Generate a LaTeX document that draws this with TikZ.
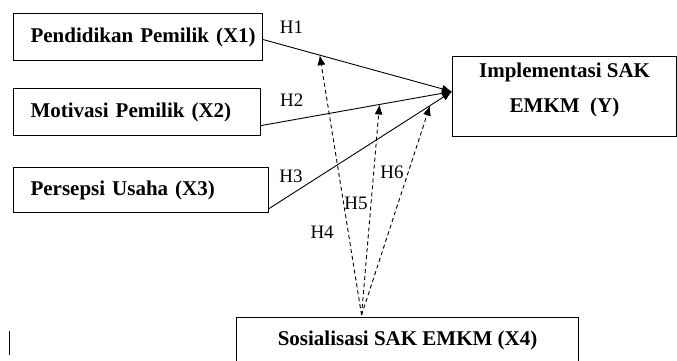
\documentclass[tikz,border=0pt]{standalone}
\usepackage{fontspec}
\setmainfont{Liberation Serif}
\usetikzlibrary{arrows.meta,positioning,calc}

\begin{document}
\begin{tikzpicture}[x=1pt, y=-1pt, >={Latex[length=10pt, width=8pt]}]
    \tikzset{
        var/.style={draw, rectangle, line width=1.1pt, anchor=north west, align=left, inner xsep=17pt, font=\bfseries\fontsize{21}{25}\selectfont},
        hyp/.style={font=\fontsize{19}{23}\selectfont, inner sep=3pt},
        line/.style={draw, ->, line width=0.9pt},
        dline/.style={line, dash pattern=on 4pt off 3pt}
    }
    \clip (0,0) rectangle (677,361);
    \node [var, text width=215pt, minimum height=47pt] (x1) at (13,13) {\mbox{Pendidikan Pemilik (X1)}};
    \node [var, text width=213pt, minimum height=47pt] (x2) at (13,88) {\mbox{Motivasi Pemilik (X2)}};
    \node [var, text width=221pt, minimum height=45pt] (x3) at (13,167) {\mbox{Persepsi Usaha (X3)}};
    \node [draw, line width=1.1pt, anchor=north west, minimum width=224pt, minimum height=80pt] (y) at (452,56) {};
    \node [anchor=base, align=center, font=\bfseries\fontsize{21}{35}\selectfont] (ylbl) at ($(y.north)+(0,56)$) {Implementasi SAK\\EMKM\ \ (Y)};
    \node [draw, line width=1.1pt, anchor=north west, minimum width=342pt, inner ysep=0pt, text height=28pt, text depth=40pt, font=\bfseries\fontsize{21}{25}\selectfont] (x4) at (236,317) {Sosialisasi SAK EMKM (X4)};

    \coordinate (yin) at ($(y.west)+(0,-5)$);
    \coordinate (src) at ($(x4.north)+(-46,-2)$);

    % direct effects
    \path [line] ($(x1.east)+(0,2.5)$) -- node[hyp, pos=0.15, above=10pt] (h1) {H1} coordinate[pos=0.30] (m1) (yin);
    \path [line] ($(x2.east)+(0,13.5)$) -- node[hyp, pos=0.16, above=10pt] (h2) {H2} coordinate[pos=0.62] (m2) (yin);
    \path [line] ($(x3.east)+(0,18.5)$) -- node[hyp, pos=0.12, above=8pt] (h3) {H3} coordinate[pos=0.88] (m3) (yin);

    % moderation
    \path [dline] (src) -- node[hyp, pos=0.32, left=11pt] (h4) {H4} (m1);
    \path [dline] (src) -- node[hyp, pos=0.53, left=0pt] (h5) {H5} (m2);
    \path [dline] (src) -- node[hyp, pos=0.68, left=1pt] (h6) {H6} (m3);

    \draw [line width=1.2pt] (9.5,331) -- (9.5,355);
\end{tikzpicture}
\end{document}
